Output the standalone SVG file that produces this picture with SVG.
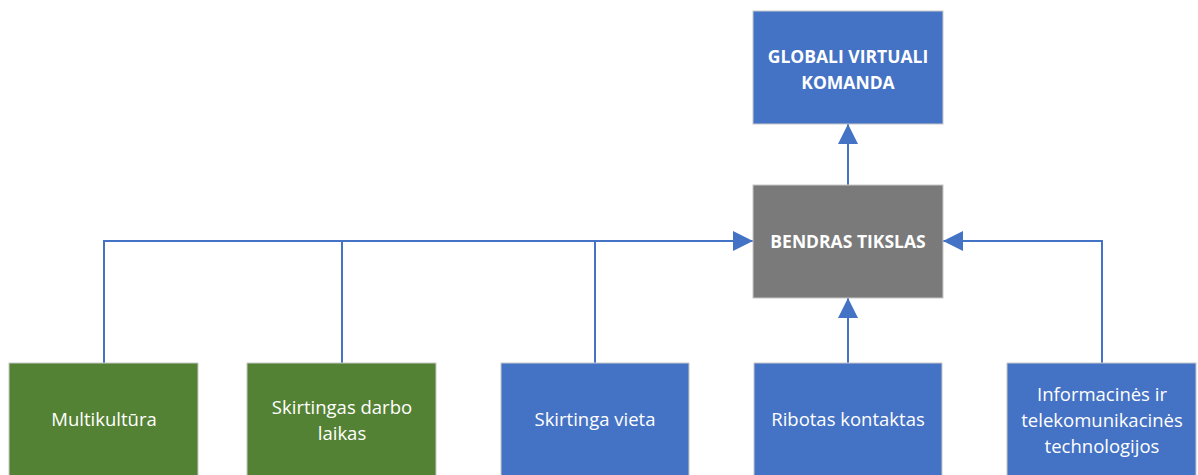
<svg xmlns="http://www.w3.org/2000/svg" width="1198" height="475" viewBox="0 0 1198 475">
  <defs>
    <marker id="arrow" markerUnits="userSpaceOnUse" markerWidth="20" markerHeight="20" viewBox="0 0 18 18" refX="18" refY="9" orient="auto">
      <path d="M0,0 L18,9 L0,18 Z" fill="#4472C4"/>
    </marker>
    <style>
      .box { stroke: #C8C8C8; stroke-width: 1; }
      .blue { fill: #4472C4; }
      .green { fill: #548235; }
      .gray { fill: #7A7A7A; }
      .lbl { font-family: "Open Sans", "Liberation Sans", sans-serif; font-size: 18.5px; fill: #FFFFFF; text-anchor: middle; }
      .hdr { font-family: "Open Sans", "Liberation Sans", sans-serif; font-size: 17.5px; font-weight: bold; fill: #FFFFFF; text-anchor: middle; }
      .conn { fill: none; stroke: #4472C4; stroke-width: 2; }
    </style>
  </defs>

  <g id="connectors">
    <path class="conn" d="M104,363 V241 H753" marker-end="url(#arrow)"/>
    <path class="conn" d="M342,363 V241"/>
    <path class="conn" d="M595,363 V241"/>
    <path class="conn" d="M1102,363 V241 H943" marker-end="url(#arrow)"/>
    <path class="conn" d="M848,363 V298" marker-end="url(#arrow)"/>
    <path class="conn" d="M848,185 V124" marker-end="url(#arrow)"/>
  </g>

  <g id="globali">
    <rect class="box blue" x="753" y="11" width="190" height="113"/>
    <text class="hdr" x="848" y="63">GLOBALI VIRTUALI</text>
    <text class="hdr" x="848" y="89">KOMANDA</text>
  </g>

  <g id="bendras">
    <rect class="box gray" x="753" y="185" width="190" height="113"/>
    <text class="hdr" x="848" y="248">BENDRAS TIKSLAS</text>
  </g>

  <g id="multikultura">
    <rect class="box green" x="9" y="363" width="189" height="114"/>
    <text class="lbl" x="104" y="426">Multikultūra</text>
  </g>

  <g id="darbo-laikas">
    <rect class="box green" x="247" y="363" width="189" height="114"/>
    <text class="lbl" x="342" y="414">Skirtingas darbo</text>
    <text class="lbl" x="342" y="440">laikas</text>
  </g>

  <g id="vieta">
    <rect class="box blue" x="501" y="363" width="188" height="114"/>
    <text class="lbl" x="595" y="426">Skirtinga vieta</text>
  </g>

  <g id="kontaktas">
    <rect class="box blue" x="754" y="363" width="188" height="114"/>
    <text class="lbl" x="848" y="426">Ribotas kontaktas</text>
  </g>

  <g id="technologijos">
    <rect class="box blue" x="1007" y="363" width="189" height="114"/>
    <text class="lbl" x="1102" y="401">Informacinės ir</text>
    <text class="lbl" x="1102" y="427">telekomunikacinės</text>
    <text class="lbl" x="1102" y="453">technologijos</text>
  </g>
</svg>
